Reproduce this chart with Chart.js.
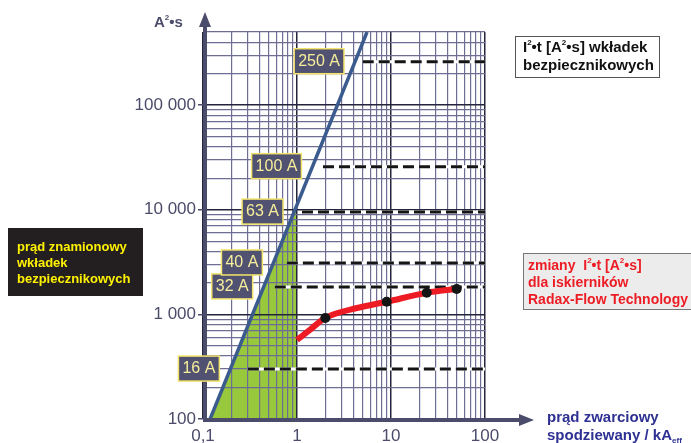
<!DOCTYPE html>
<html>
<head>
<meta charset="utf-8">
<script src="https://cdn.jsdelivr.net/npm/chart.js@4.4.1/dist/chart.umd.min.js"></script>
<style>
  html, body { margin: 0; padding: 0; background: #fff; }
  canvas { display: block; }
</style>
</head>
<body>
<canvas id="chart" width="691" height="443"></canvas>
<script>
// opisy osi
const xTickValues = [0.1, 1, 10, 100];
const xTickLabels = ['0,1', '1', '10', '100'];
const yTickValues = [100, 1000, 10000, 100000];
const yTickLabels = ['100', '1 000', '10 000', '100 000'];

// prosta I²t (niebieska)
const lineX = [0.119, 5.56];
const lineY = [100, 500000];

// zielony obszar do 1 kA
const areaX = [0.119, 1];
const areaY = [100, 11200];

// wkładki bezpiecznikowe: nazwa, I²t, zakres linii przerywanej
const fuseNames = ['16 A', '32 A', '40 A', '63 A', '100 A', '250 A'];
const fuseI2t = [300, 1830, 3100, 9500, 25800, 260000];
const fuseFrom = [0.30, 0.58, 0.78, 1.13, 1.89, 5.0];
const fuseTo = [100, 100, 100, 100, 100, 100];

// iskierniki Radax-Flow (czerwona krzywa)
const radaxX = [1, 1.37, 2, 4.35, 9, 24, 50];
const radaxY = [570, 710, 925, 1150, 1320, 1610, 1750];
// punkty pomiarowe
const dotX = [2, 9, 24, 50];
const dotY = [925, 1320, 1610, 1750];

const FONT = '"Liberation Sans", Arial, sans-serif';

function pts(xs, ys) {
  return xs.map((v, i) => ({ x: v, y: ys[i] }));
}

function isDecade(v) {
  const l = Math.log10(v);
  return Math.abs(l - Math.round(l)) < 1e-6;
}

// ticks 1..9 w każdej dekadzie
function logTicks(min, max) {
  const out = [];
  for (let e = Math.floor(Math.log10(min)); e <= Math.ceil(Math.log10(max)); e++) {
    for (let m = 1; m <= 9; m++) {
      const v = Number((m * Math.pow(10, e)).toPrecision(6));
      if (v >= min * 0.9999 && v <= max * 1.0001) out.push({ value: v });
    }
  }
  return out;
}

function labelFor(values, labels, v) {
  const i = values.findIndex(t => Math.abs(t - v) / t < 1e-6);
  return i >= 0 ? labels[i] : '';
}

// tekst z indeksem górnym / dolnym
function richText(ctx, parts, x, y, size, weight) {
  let cx = x;
  parts.forEach(p => {
    const [txt, mode] = p;
    if (mode) {
      ctx.font = weight + ' ' + Math.round(size * 0.55) + 'px ' + FONT;
      const dy = mode === 'sup' ? -size * 0.38 : size * 0.3;
      ctx.fillText(txt, cx, y + dy);
    } else {
      ctx.font = weight + ' ' + size + 'px ' + FONT;
      ctx.fillText(txt, cx, y);
    }
    cx += ctx.measureText(txt).width;
  });
}

const decor = {
  id: 'decor',
  afterDraw(chart) {
    const { ctx, chartArea: a, scales: { x, y } } = chart;
    ctx.save();

    // osie ze strzałkami
    ctx.strokeStyle = '#4b4b6b';
    ctx.fillStyle = '#4b4b6b';
    ctx.lineWidth = 4;
    ctx.beginPath();
    ctx.moveTo(a.left + 2, a.bottom + 2);
    ctx.lineTo(a.left + 2, 24);
    ctx.moveTo(a.left, a.bottom + 1);
    ctx.lineTo(522, a.bottom + 1);
    ctx.stroke();
    ctx.beginPath();
    ctx.moveTo(a.left + 2, 12);
    ctx.lineTo(a.left - 4, 27);
    ctx.lineTo(a.left + 8, 27);
    ctx.closePath();
    ctx.fill();
    ctx.beginPath();
    ctx.moveTo(534, a.bottom + 1);
    ctx.lineTo(519, a.bottom - 5);
    ctx.lineTo(519, a.bottom + 7);
    ctx.closePath();
    ctx.fill();

    // etykiety wkładek przy prostej I²t
    const lx0 = Math.log10(lineX[0]), lx1 = Math.log10(lineX[1]);
    const ly0 = Math.log10(lineY[0]), ly1 = Math.log10(lineY[1]);
    ctx.font = '16px ' + FONT;
    ctx.textBaseline = 'middle';
    fuseNames.forEach((name, i) => {
      const yp = y.getPixelForValue(fuseI2t[i]);
      const lx = lx0 + (Math.log10(fuseI2t[i]) - ly0) / (ly1 - ly0) * (lx1 - lx0);
      const xp = x.getPixelForValue(Math.pow(10, lx));
      const w = ctx.measureText(name).width + 8;
      const right = xp - 11;
      ctx.fillStyle = '#515172';
      ctx.fillRect(right - w, yp - 13, w, 25);
      ctx.strokeStyle = '#f2e46a';
      ctx.lineWidth = 1.5;
      ctx.strokeRect(right - w, yp - 13, w, 25);
      ctx.fillStyle = '#f6ee9a';
      ctx.textAlign = 'left';
      ctx.fillText(name, right - w + 4, yp);
    });

    // tytuł osi Y
    ctx.fillStyle = '#4b4b6b';
    richText(ctx, [['A'], ['2', 'sup'], ['•s']], 154, 23, 15, 'bold');

    // tytuł osi X
    ctx.fillStyle = '#2e3192';
    richText(ctx, [['prąd zwarciowy']], 547, 418, 15, 'bold');
    richText(ctx, [['spodziewany / kA'], ['eff', 'sub']], 547, 436, 15, 'bold');

    // ramka: I²t wkładek
    ctx.fillStyle = '#fff';
    ctx.fillRect(515.5, 36.5, 144, 41);
    ctx.strokeStyle = '#555';
    ctx.lineWidth = 1;
    ctx.strokeRect(515.5, 36.5, 144, 41);
    ctx.fillStyle = '#111';
    richText(ctx, [['I'], ['2', 'sup'], ['•t [A'], ['2', 'sup'], ['•s] wkładek']], 523, 48, 15, 'bold');
    richText(ctx, [['bezpiecznikowych']], 523, 66, 15, 'bold');

    // ramka: prąd znamionowy
    ctx.fillStyle = '#231f20';
    ctx.fillRect(8, 228, 135, 68);
    ctx.fillStyle = '#fff200';
    richText(ctx, [['prąd znamionowy']], 17, 247, 13, 'bold');
    richText(ctx, [['wkładek']], 17, 263, 13, 'bold');
    richText(ctx, [['bezpiecznikowych']], 17, 279, 13, 'bold');

    // ramka: Radax-Flow
    ctx.fillStyle = '#ececec';
    ctx.fillRect(523.5, 253.5, 172, 56);
    ctx.strokeStyle = '#777';
    ctx.strokeRect(523.5, 253.5, 172, 56);
    ctx.fillStyle = '#ed1c24';
    richText(ctx, [['zmiany  I'], ['2', 'sup'], ['•t [A'], ['2', 'sup'], ['•s]']], 528, 266, 14, 'bold');
    richText(ctx, [['dla iskierników']], 528, 283, 14, 'bold');
    richText(ctx, [['Radax-Flow Technology']], 528, 300, 14, 'bold');

    ctx.restore();
  }
};

const datasets = [];
// zielony obszar
datasets.push({
  data: pts(areaX, areaY), showLine: true, fill: 'start',
  backgroundColor: '#98c93c', borderWidth: 0, pointRadius: 0, order: 9
});
// linie przerywane wkładek
fuseNames.forEach((n, i) => {
  const d = pts([fuseFrom[i], fuseTo[i]], [fuseI2t[i], fuseI2t[i]]);
  datasets.push({ data: d, showLine: true, borderColor: '#fff', borderWidth: 3, pointRadius: 0, order: 5 });
  datasets.push({ data: d, showLine: true, borderColor: '#151515', borderWidth: 3,
    borderDash: [11, 5], pointRadius: 0, order: 4 });
});
// prosta I²t
datasets.push({
  data: pts(lineX, lineY), showLine: true, borderColor: '#3b5b8e', borderWidth: 3.5,
  pointRadius: 0, order: 3
});
// krzywa Radax-Flow
datasets.push({
  data: pts(radaxX, radaxY), showLine: true, borderColor: '#ed1c24', borderWidth: 6,
  cubicInterpolationMode: 'monotone', pointRadius: 0, order: 2
});
datasets.push({
  data: pts(dotX, dotY), showLine: false, pointRadius: 5, pointBorderWidth: 0,
  pointBackgroundColor: '#151515', order: 1
});

new Chart(document.getElementById('chart'), {
  type: 'scatter',
  data: { datasets },
  options: {
    responsive: false,
    devicePixelRatio: 1,
    animation: false,
    layout: { padding: { top: 32, right: 206, bottom: 0, left: 0 } },
    plugins: {
      legend: { display: false },
      tooltip: { enabled: false },
      filler: { drawTime: 'beforeDraw' }
    },
    scales: {
      x: {
        type: 'logarithmic', min: 0.1, max: 100,
        afterBuildTicks: s => { s.ticks = logTicks(0.1, 100); },
        afterFit: s => { s.height = 24; },
        border: { display: false },
        grid: {
          color: c => isDecade(c.tick.value) ? '#24243a' : '#6e6e94',
          lineWidth: c => isDecade(c.tick.value) ? 1.5 : 1.2,
          drawTicks: false
        },
        ticks: {
          autoSkip: false, maxRotation: 0, padding: 7,
          color: '#4b4b6b', font: { family: FONT, size: 17 },
          callback: v => labelFor(xTickValues, xTickLabels, v)
        }
      },
      y: {
        type: 'logarithmic', min: 100, max: 500000,
        afterBuildTicks: s => { s.ticks = logTicks(100, 500000); },
        afterFit: s => { s.width = 203; },
        border: { display: false },
        grid: {
          color: c => isDecade(c.tick.value) ? '#24243a' : '#6e6e94',
          lineWidth: c => isDecade(c.tick.value) ? 1.5 : 1.2,
          tickLength: 5,
          tickColor: c => isDecade(c.tick.value) ? '#4b4b6b' : 'rgba(0,0,0,0)'
        },
        ticks: {
          autoSkip: false, padding: 2,
          color: '#4b4b6b', font: { family: FONT, size: 17 },
          callback: v => labelFor(yTickValues, yTickLabels, v)
        }
      }
    }
  },
  plugins: [decor]
});
</script>
</body>
</html>
